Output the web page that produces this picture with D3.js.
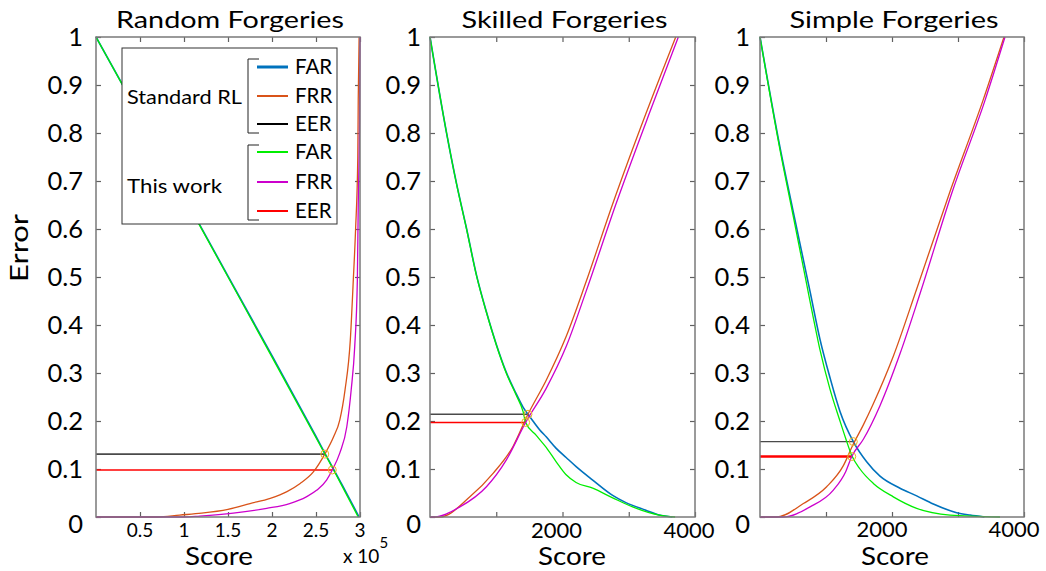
<!DOCTYPE html>
<html><head><meta charset="utf-8">
<script src="https://cdn.jsdelivr.net/npm/d3@7"></script>
<style>body{margin:0;background:#fff}svg{display:block;font-family:Lato,"Open Sans",sans-serif}</style>
</head><body><svg id="c" width="1046" height="571"></svg>
<script>
// ---------- data ----------
const titles = ["Random Forgeries", "Skilled Forgeries", "Simple Forgeries"];
const yTicks = [0, 0.1, 0.2, 0.3, 0.4, 0.5, 0.6, 0.7, 0.8, 0.9, 1];
const randomXTicks = [0.5, 1, 1.5, 2, 2.5, 3];       // score x 10^5
const scoreXTicks = [1000, 2000, 3000, 4000];
const scoreXLabels = [2000, 4000];
const legendGroups = ["Standard RL", "This work"];
const legendItems = ["FAR", "FRR", "EER"];

// Random forgeries (score in units of 10^5)
const randomFarStd  = [[0,1],[0.5,0.835],[1,0.668],[1.5,0.502],[2,0.336],[2.5,0.168],[2.6,0.133],[2.8,0.066],[2.99,0]];
const randomFrrStd  = [[0,0],[0.7,0],[0.95,0.004],[1.2,0.008],[1.5,0.016],[1.75,0.028],[1.98,0.039],[2.17,0.053],[2.32,0.07],[2.47,0.094],[2.6,0.131],[2.7,0.167],[2.77,0.202],[2.83,0.265],[2.89,0.369],[2.924,0.494],[2.95,0.6],[2.975,0.75],[2.98,0.87],[2.99,1]];
const randomFarOurs = [[0,1],[0.5,0.834],[1,0.667],[1.5,0.5],[2,0.333],[2.5,0.165],[2.685,0.103],[2.98,0]];
const randomFrrOurs = [[0,0],[1.0,0],[1.18,0.002],[1.56,0.008],[1.94,0.018],[2.2,0.028],[2.39,0.042],[2.51,0.056],[2.62,0.077],[2.685,0.098],[2.77,0.133],[2.85,0.188],[2.9,0.265],[2.94,0.355],[2.97,0.494],[2.98,0.65],[2.995,0.83],[3,1]];
const randomEerStd  = [2.6, 0.131];
const randomEerOurs = [2.685, 0.098];

// Skilled forgeries
const skilledFarStd  = [[0,1],[250,0.8],[400,0.695],[550,0.602],[700,0.505],[850,0.428],[1000,0.36],[1150,0.302],[1300,0.257],[1404,0.229],[1479,0.214],[1554,0.2],[1654,0.182],[1754,0.167],[1905,0.143],[2055,0.124],[2206,0.105],[2456,0.077],[2757,0.045],[2957,0.03],[3258,0.014],[3459,0.004],[3659,0]];
const skilledFrrStd  = [[0,0],[150,0],[602,0.042],[952,0.091],[1253,0.147],[1479,0.214],[1754,0.285],[2055,0.376],[2356,0.49],[2757,0.652],[3258,0.84],[3709,1]];
const skilledFarOurs = [[0,1],[250,0.8],[400,0.694],[550,0.601],[700,0.504],[850,0.427],[1000,0.359],[1150,0.3],[1300,0.254],[1404,0.22],[1444,0.197],[1604,0.17],[1754,0.145],[1905,0.115],[2055,0.088],[2205,0.072],[2456,0.06],[2757,0.04],[3058,0.021],[3459,0.004],[3700,0]];
const skilledFrrOurs = [[0,0],[50,0],[451,0.021],[852,0.063],[1153,0.119],[1444,0.197],[1754,0.268],[2055,0.355],[2356,0.47],[2807,0.652],[3308,0.84],[3749,1]];
const skilledEerStd  = [1479, 0.214];
const skilledEerOurs = [1444, 0.197];

// Simple forgeries
const simpleFarStd  = [[0,1],[303,0.77],[505,0.635],[758,0.47],[909,0.37],[1061,0.29],[1212,0.22],[1414,0.157],[1616,0.115],[1818,0.085],[2121,0.06],[2374,0.044],[2626,0.027],[2980,0.009],[3182,0.004],[3400,0]];
const simpleFrrStd  = [[0,0],[252,0],[657,0.028],[1010,0.063],[1263,0.107],[1414,0.152],[1566,0.192],[1717,0.236],[2020,0.335],[2374,0.475],[2879,0.678],[3384,0.87],[3697,1]];
const simpleFarOurs = [[0,1],[303,0.765],[505,0.626],[707,0.485],[808,0.415],[909,0.348],[1061,0.266],[1212,0.2],[1300,0.163],[1390,0.128],[1515,0.1],[1717,0.07],[2020,0.042],[2374,0.018],[2879,0.004],[3636,0]];
const simpleFrrOurs = [[0,0],[348,0],[758,0.021],[1111,0.056],[1300,0.095],[1390,0.126],[1566,0.162],[1818,0.232],[2121,0.34],[2424,0.465],[2904,0.674],[3409,0.868],[3712,1]];
const simpleEerStd  = [1414, 0.157];
const simpleEerOurs = [1390, 0.126];

// ---------- layout / style ----------
const colors = {farStd:"#0072BD", frrStd:"#D95319", eerStd:"#4a4a4a", farOurs:"#00EE00", frrOurs:"#CC00CC", eerOurs:"#FF0000", marker:"#EDB120"};
const plotTop = 37, plotBottom = 517;
const panels = [
  {left:96, right:360, domain:[0,3], ticks:randomXTicks, labels:randomXTicks, labelSize:19, labelY:537, labelShift:0, scoreX:219, gap:13, sci:true, titleW:228,
   far:randomFarStd, frr:randomFrrStd, far2:randomFarOurs, frr2:randomFrrOurs, eer:randomEerStd, eer2:randomEerOurs, eerW:[1.6,1.5], curve:d3.curveLinear},
  {left:430, right:695, domain:[0,4000], ticks:scoreXTicks, labels:scoreXLabels, labelSize:22, labelY:538, labelShift:-6, scoreX:572, gap:9, titleW:206,
   far:skilledFarStd, frr:skilledFrrStd, far2:skilledFarOurs, frr2:skilledFrrOurs, eer:skilledEerStd, eer2:skilledEerOurs, eerW:[1.6,1.5], curve:d3.curveMonotoneX},
  {left:760, right:1024, domain:[0,4000], ticks:scoreXTicks, labels:scoreXLabels, labelSize:22, labelY:537, labelShift:-10, scoreX:895, gap:10, titleW:209,
   far:simpleFarStd, frr:simpleFrrStd, far2:simpleFarOurs, frr2:simpleFrrOurs, eer:simpleEerStd, eer2:simpleEerOurs, eerW:[1.4,2.4], curve:d3.curveMonotoneX}
];

const fit = (sel, w) => sel.attr("textLength", w).attr("lengthAdjust", "spacingAndGlyphs");

const svg = d3.select("#c");
svg.append("rect").attr("width",1046).attr("height",571).attr("fill","#fff");
const y = d3.scaleLinear().domain([0,1]).range([plotBottom, plotTop]);
const fmtY = d => d === 0 ? "0" : d === 1 ? "1" : d3.format(".1f")(d);

panels.forEach((p, i) => {
  const x = d3.scaleLinear().domain(p.domain).range([p.left, p.right]);
  const g = svg.append("g");
  const line = d3.line().x(d => x(d[0])).y(d => y(d[1])).curve(p.curve);
  const smoothFrr = d3.line().x(d => x(d[0])).y(d => y(d[1])).curve(d3.curveMonotoneX);
  const straight = d3.line().x(d => x(d[0])).y(d => y(d[1]));

  const axL = g.append("g").attr("transform",`translate(${p.left},0)`)
    .call(d3.axisLeft(y).tickValues(yTicks).tickSize(-5).tickPadding(p.gap).tickFormat(fmtY));
  const axR = g.append("g").attr("transform",`translate(${p.right},0)`)
    .call(d3.axisRight(y).tickValues(yTicks.slice(1,-1)).tickSize(-5).tickFormat(""));
  const axB = g.append("g").attr("transform",`translate(0,${plotBottom})`)
    .call(d3.axisBottom(x).tickValues(p.ticks).tickSize(-5).tickFormat(""));
  const axT = g.append("g").attr("transform",`translate(0,${plotTop})`)
    .call(d3.axisTop(x).tickValues(p.ticks).tickSize(-5).tickFormat(""));
  [axL,axR,axB,axT].forEach(a => {
    a.select(".domain").remove();
    a.selectAll("line").attr("stroke","#606060").attr("stroke-width",1.2);
  });
  axL.selectAll("text").attr("font-size",25.5).attr("fill","#000").attr("font-family","Lato")
    .attr("dy", d => d === 0 ? "0.62em" : "0.35em");
  g.selectAll(".xl").data(p.labels).enter().append("text")
    .attr("x", d => x(d) + p.labelShift).attr("y", p.labelY).attr("text-anchor","middle")
    .attr("font-size", p.labelSize).text(d => d);

  g.append("path").attr("d", straight([[p.domain[0],p.eer[1]],p.eer])).attr("fill","none").attr("stroke",colors.eerStd).attr("stroke-width",p.eerW[0]);
  g.append("path").attr("d", straight([[p.domain[0],p.eer2[1]],p.eer2])).attr("fill","none").attr("stroke",colors.eerOurs).attr("stroke-width",p.eerW[1]);
  g.append("path").attr("d", line(p.far)).attr("fill","none").attr("stroke",colors.farStd).attr("stroke-width",1.6);
  g.append("path").attr("d", smoothFrr(p.frr)).attr("fill","none").attr("stroke",colors.frrStd).attr("stroke-width",1.3);
  g.append("path").attr("d", line(p.far2)).attr("fill","none").attr("stroke",colors.farOurs).attr("stroke-width",1.3);
  g.append("path").attr("d", smoothFrr(p.frr2)).attr("fill","none").attr("stroke",colors.frrOurs).attr("stroke-width",1.3);
  [p.eer, p.eer2].forEach(e => g.append("circle").attr("cx",x(e[0])).attr("cy",y(e[1])).attr("r",4)
    .attr("fill","none").attr("stroke",colors.marker).attr("stroke-width",1));

  g.append("rect").attr("x",p.left).attr("y",plotTop).attr("width",p.right-p.left).attr("height",plotBottom-plotTop)
    .attr("fill","none").attr("stroke","#7a7a7a").attr("stroke-width",1.5);

  fit(svg.append("text").attr("x",(p.left+p.right)/2 + 2).attr("y",28).attr("text-anchor","middle")
    .attr("font-size",24).text(titles[i]), p.titleW);
  fit(svg.append("text").attr("x",p.scoreX).attr("y",565).attr("text-anchor","middle").attr("font-size",25).text("Score"), 68);
  if (p.sci) {
    const t = svg.append("text").attr("x",343).attr("y",563).attr("font-size",19);
    t.append("tspan").text("x 10");
    t.append("tspan").attr("font-size",15).attr("dy",-15).text("5");
  }
});

fit(svg.append("text").attr("transform","translate(28,248) rotate(-90)").attr("text-anchor","middle")
  .attr("font-size",25).text("Error"), 68);

// legend
const lg = svg.append("g");
lg.append("rect").attr("x",122).attr("y",48).attr("width",215).attr("height",176)
  .attr("fill","#fff").attr("stroke","#333").attr("stroke-width",1);
const legendColors = [[colors.farStd,colors.frrStd,"#000"],[colors.farOurs,colors.frrOurs,colors.eerOurs]];
const legendWidths = [[3,2,2],[2,2,2]];
const rowY = [[67,96,124],[152,182,211]];
const bracket = [[59,133],[145,220]];
const groupW = [115, 95];
legendGroups.forEach((name, gi) => {
  fit(lg.append("text").attr("x",127).attr("y", gi === 0 ? 104 : 193).attr("font-size",20).text(name), groupW[gi]);
  lg.append("path").attr("d",`M259,${bracket[gi][0]}H248V${bracket[gi][1]}H259`)
    .attr("fill","none").attr("stroke","#222").attr("stroke-width",1);
  legendItems.forEach((it, ii) => {
    const yy = rowY[gi][ii];
    lg.append("line").attr("x1",257).attr("x2",288).attr("y1",yy).attr("y2",yy)
      .attr("stroke",legendColors[gi][ii]).attr("stroke-width",legendWidths[gi][ii]);
    lg.append("text").attr("x",295).attr("y",yy+7).attr("font-size",20.5).text(it);
  });
});
</script></body></html>
